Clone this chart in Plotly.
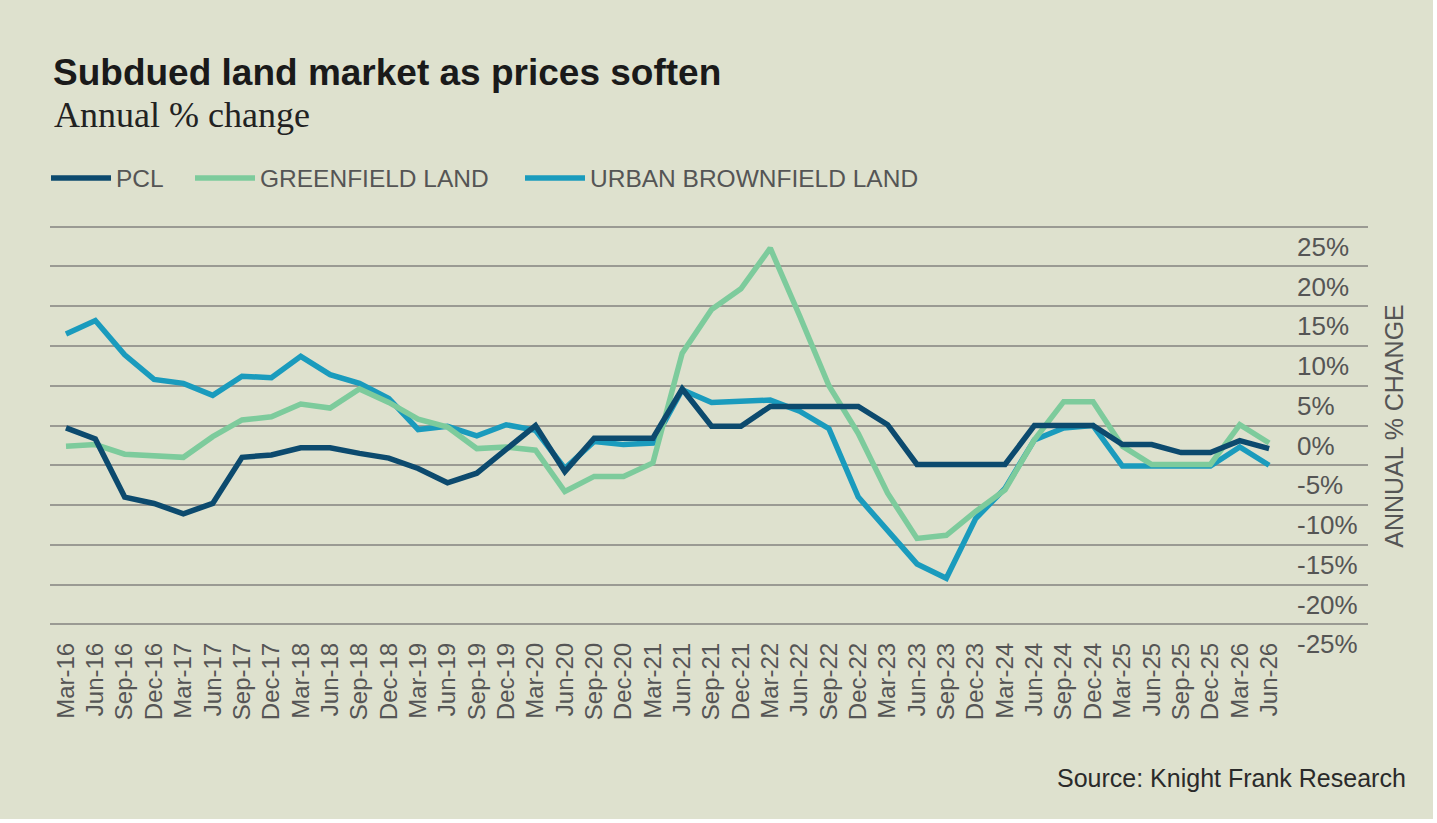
import plotly.graph_objects as go

quarters = [
    "Mar-16", "Jun-16", "Sep-16", "Dec-16",
    "Mar-17", "Jun-17", "Sep-17", "Dec-17",
    "Mar-18", "Jun-18", "Sep-18", "Dec-18",
    "Mar-19", "Jun-19", "Sep-19", "Dec-19",
    "Mar-20", "Jun-20", "Sep-20", "Dec-20",
    "Mar-21", "Jun-21", "Sep-21", "Dec-21",
    "Mar-22", "Jun-22", "Sep-22", "Dec-22",
    "Mar-23", "Jun-23", "Sep-23", "Dec-23",
    "Mar-24", "Jun-24", "Sep-24", "Dec-24",
    "Mar-25", "Jun-25", "Sep-25", "Dec-25",
    "Mar-26", "Jun-26",
]

pcl = [
    -0.3, -1.7, -9.0, -9.8,
    -11.1, -9.8, -4.0, -3.7,
    -2.8, -2.8, -3.5, -4.1,
    -5.4, -7.2, -6.0, -3.0,
    0.0, -5.8, -1.6, -1.6,
    -1.6, 4.6, -0.1, -0.1,
    2.4, 2.4, 2.4, 2.4,
    0.1, -4.9, -4.9, -4.9,
    -4.9, 0.0, 0.0, 0.0,
    -2.4, -2.4, -3.4, -3.4,
    -1.9, -2.9,
]

greenfield = [
    -2.6, -2.4, -3.6, -3.8,
    -4.0, -1.4, 0.7, 1.1,
    2.7, 2.2, 4.6, 2.9,
    0.8, -0.2, -2.9, -2.7,
    -3.1, -8.3, -6.4, -6.4,
    -4.7, 9.1, 14.6, 17.2,
    22.3, 13.8, 5.0, -1.0,
    -8.5, -14.2, -13.8, -10.8,
    -8.1, -1.8, 3.0, 3.0,
    -2.6, -4.9, -4.9, -4.9,
    0.1, -2.2,
]

urban = [
    11.5, 13.2, 8.9, 5.8,
    5.3, 3.8, 6.2, 6.0,
    8.7, 6.4, 5.3, 3.4,
    -0.5, -0.1, -1.3, 0.1,
    -0.6, -5.4, -2.0, -2.4,
    -2.2, 4.5, 2.9, 3.0,
    3.2, 1.8, -0.4, -9.0,
    -13.2, -17.4, -19.2, -11.7,
    -7.9, -1.8, -0.3, 0.0,
    -5.1, -5.1, -5.1, -5.1,
    -2.7, -5.0,
]

y_ticks = [25, 20, 15, 10, 5, 0, -5, -10, -15, -20, -25]
y_tick_labels = ["25%", "20%", "15%", "10%", "5%", "0%", "-5%", "-10%", "-15%", "-20%", "-25%"]

BG = "#dee1ce"
C_PCL = "#0c4a6e"
C_GREEN = "#7dcb9c"
C_URBAN = "#1a9bbd"
GRID = "#9a9a93"
TXT = "#555555"

W, H = 1433, 819
L, T = 50, 224
PW, PH = 1318, 404
R = W - L - PW
B = H - T - PH


def px_x(x):
    return (x - L) / PW


def px_y(y):
    return (T + PH - y) / PH


SANS = "Liberation Sans, Arial, sans-serif"
LEG_FONT = dict(family=SANS, size=24.5, color=TXT)

fig = go.Figure()
fig.add_trace(go.Scatter(x=quarters, y=urban, name="URBAN BROWNFIELD LAND", mode="lines",
                         line=dict(color=C_URBAN, width=5.5), legend="legend3"))
fig.add_trace(go.Scatter(x=quarters, y=greenfield, name="GREENFIELD LAND", mode="lines",
                         line=dict(color=C_GREEN, width=5.5), legend="legend2"))
fig.add_trace(go.Scatter(x=quarters, y=pcl, name="PCL", mode="lines",
                         line=dict(color=C_PCL, width=5.5), legend="legend"))


def leg(xpx):
    return dict(orientation="h", x=px_x(xpx), xanchor="left", y=px_y(178), yanchor="middle",
                font=LEG_FONT, itemwidth=60, bgcolor="rgba(0,0,0,0)")


fig.update_layout(
    width=W, height=H,
    paper_bgcolor=BG, plot_bgcolor=BG,
    margin=dict(l=L, r=R, t=T, b=B, autoexpand=False),
    showlegend=True,
    legend=leg(46), legend2=leg(190), legend3=leg(520),
    title=dict(
        text="Subdued land market as prices soften",
        x=53 / W, xanchor="left", xref="container",
        y=1 - 72 / H, yanchor="middle", yref="container",
        font=dict(family=SANS, size=37, color="#1a1a1a", weight="bold"),
    ),
    xaxis=dict(
        type="category", range=[-0.545, 44.37], dtick=1,
        tickangle=-90, showgrid=False, showline=False, zeroline=False,
        ticks="", ticklabelstandoff=9,
        tickfont=dict(family=SANS, size=24, color=TXT),
    ),
    yaxis=dict(
        range=[-25.46, 25.34], tickvals=y_ticks, ticktext=y_tick_labels,
        showgrid=True, gridcolor=GRID, gridwidth=1.6, zeroline=False,
        showline=False, ticks="", side="right", anchor="free", position=px_x(1290),
        ticklabelshift=20, ticklabelstandoff=6,
        tickfont=dict(family=SANS, size=26, color=TXT),
        title=dict(text="ANNUAL % CHANGE", standoff=28,
                   font=dict(family=SANS, size=25, color=TXT)),
    ),
    annotations=[
        dict(text="Annual % change", x=px_x(52), y=px_y(115), xref="paper", yref="paper",
             xanchor="left", yanchor="middle", showarrow=False,
             font=dict(family="Liberation Serif, Times New Roman, serif", size=36, color="#222222")),
        dict(text="Source: Knight Frank Research", x=px_x(1408), y=px_y(778), xref="paper", yref="paper",
             xanchor="right", yanchor="middle", showarrow=False,
             font=dict(family=SANS, size=25, color="#2a2a2a")),
    ],
    hovermode=False,
)

fig.write_html("out.html", config={"displayModeBar": False},
               post_script="document.body.style.margin='0';")
